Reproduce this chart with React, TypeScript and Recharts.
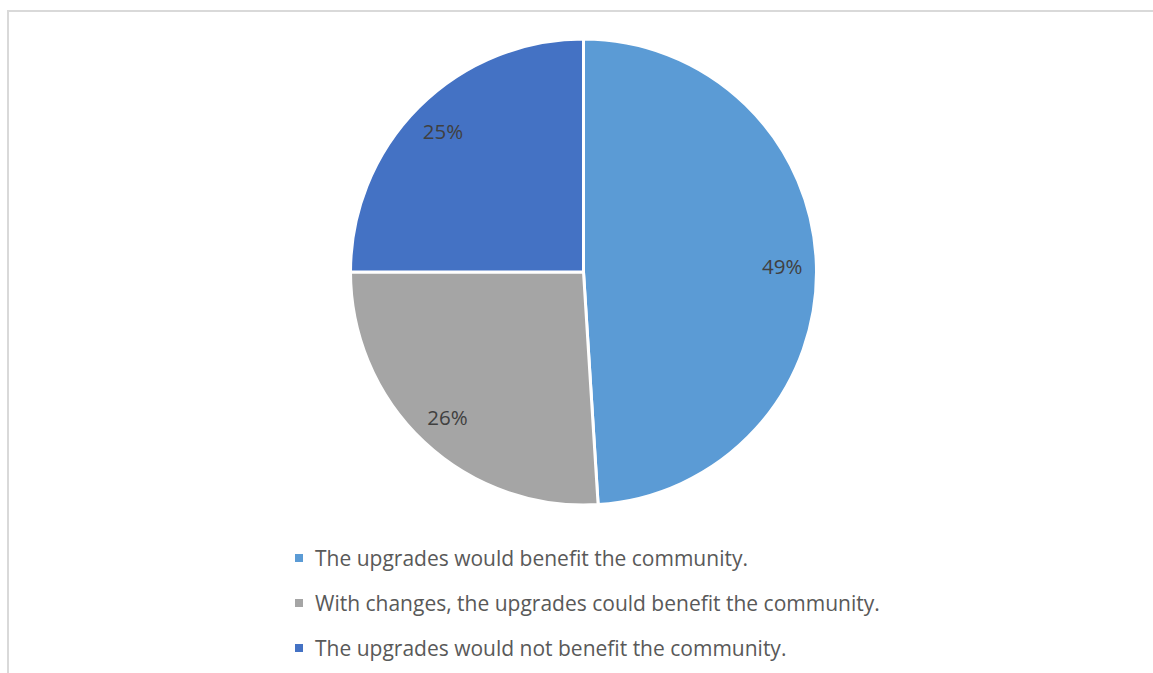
import React from 'react';
import { PieChart, Pie, Cell, Legend } from 'recharts';

const CATEGORIES = [
  'The upgrades would benefit the community.',
  'With changes, the upgrades could benefit the community.',
  'The upgrades would not benefit the community.',
];
const SHARES = [49, 26, 25];
const COLORS = ['#5B9BD5', '#A5A5A5', '#4472C4'];

const data = CATEGORIES.map((name, i) => ({ name, value: SHARES[i] }));

const FONT = '"Open Sans", "Liberation Sans", sans-serif';
const RADIAN = Math.PI / 180;

const renderLabel = ({ cx, cy, midAngle, outerRadius, value }: any) => {
  const r = outerRadius * 0.853;
  const x = cx + r * Math.cos(-midAngle * RADIAN);
  const y = cy + r * Math.sin(-midAngle * RADIAN);
  return (
    <text x={x} y={y} fill="#404040" textAnchor="middle" dominantBaseline="central" fontSize={20.5} fontFamily={FONT}>
      {`${value}%`}
    </text>
  );
};

const renderLegend = () => (
  <div style={{ fontFamily: FONT, fontSize: 21, color: '#595959' }}>
    {data.map((d, i) => (
      <div key={d.name} style={{ display: 'flex', alignItems: 'center', height: 45 }}>
        <span style={{ width: 8, height: 8, background: COLORS[i], marginRight: 12, display: 'inline-block' }} />
        <span>{d.name}</span>
      </div>
    ))}
  </div>
);

export default function App() {
  return (
    <div style={{ position: 'fixed', left: 0, top: 0, width: 1153, height: 673, overflow: 'hidden', background: '#fff' }}>
      <div
        style={{
          position: 'absolute',
          left: 7,
          top: 10,
          width: 1200,
          height: 700,
          borderLeft: '2px solid #d9d9d9',
          borderTop: '2px solid #d9d9d9',
        }}
      />
      <div style={{ position: 'absolute', left: 0, top: 0 }}>
        <PieChart width={1153} height={673} margin={{ top: 0, right: 0, bottom: 0, left: 0 }}>
          <Pie
            data={data}
            dataKey="value"
            nameKey="name"
            cx={583.5}
            cy={272}
            outerRadius={233}
            startAngle={90}
            endAngle={-270}
            stroke="#fff"
            strokeWidth={3}
            labelLine={false}
            label={renderLabel}
            isAnimationActive={false}
          >
            {data.map((d, i) => (
              <Cell key={d.name} fill={COLORS[i]} />
            ))}
          </Pie>
          <Legend
            content={renderLegend}
            wrapperStyle={{ position: 'absolute', left: 295, top: 535, width: 'auto' }}
          />
        </PieChart>
      </div>
    </div>
  );
}
